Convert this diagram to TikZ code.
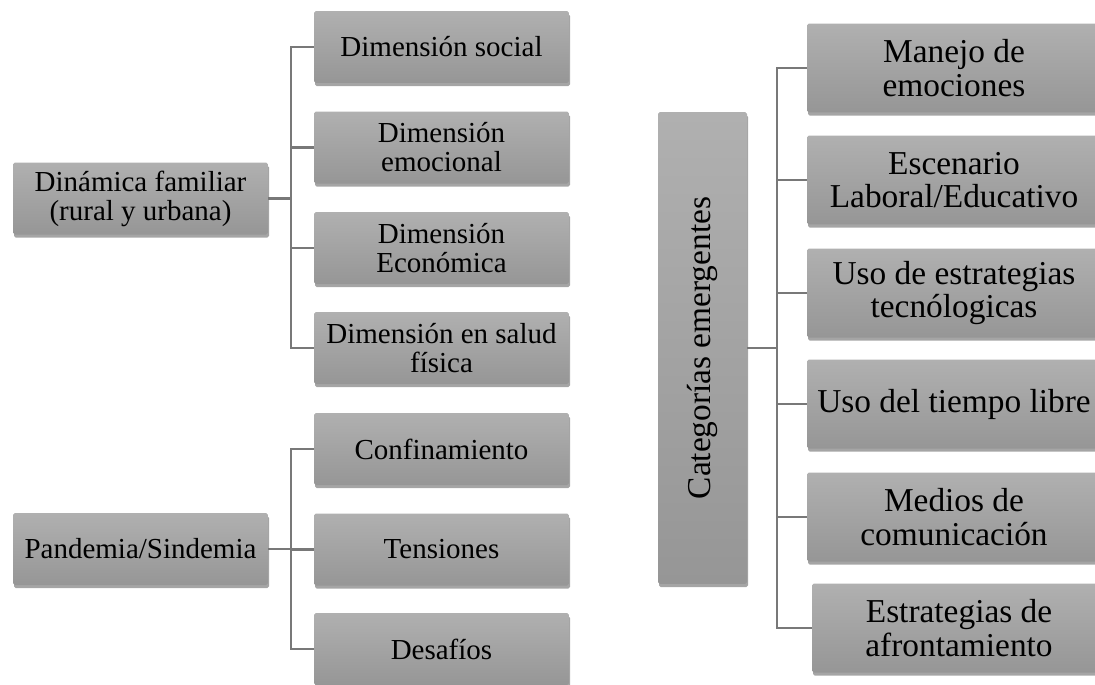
\documentclass[tikz,border=0pt]{standalone}
\usepackage{fontspec}
\setmainfont{Liberation Serif}
\usetikzlibrary{shadows}
\definecolor{boxtop}{RGB}{176,176,176}
\definecolor{boxbot}{RGB}{150,150,150}
\definecolor{linegray}{RGB}{120,120,120}

\begin{document}
\begin{tikzpicture}[x=0.02cm,y=-0.02cm,
    caja/.style={top color=boxtop,bottom color=boxbot,draw=none,rounded corners=1pt,
      drop shadow={shadow xshift=0.6pt,shadow yshift=-1.8pt,opacity=0.5,fill=black!70},
      align=center,inner sep=2pt,font=\fontsize{16.5}{16.5}\selectfont,
      minimum width=5.1cm,minimum height=1.44cm},
    cajader/.style={caja,font=\fontsize{19}{19}\selectfont,
      minimum width=5.88cm,minimum height=1.78cm},
    rama/.style={draw=linegray,line width=1.3pt}]
      \useasboundingbox (0,0) rectangle (1095,684);
      % dinamica familiar
      \node[caja] (dinamica) at (140.5,198.5) {Dinámica familiar\\(rural y urbana)};
      \node[caja] (social) at (441.5,47) {Dimensión social};
      \node[caja] (emocional) at (441.5,147.5) {Dimensión\\emocional};
      \node[caja] (economica) at (441.5,248) {Dimensión\\Económica};
      \node[caja] (salud) at (441.5,348) {Dimensión en salud\\física};
      \coordinate (bus1) at (291,0);
      \draw[rama] (dinamica.east) -- (dinamica.east -| bus1);
      \draw[rama] (social.west) -- (social.west -| bus1) -- (salud.west -| bus1) -- (salud.west);
      \foreach \n in {emocional,economica}
        \draw[rama] (\n.west) -- (\n.west -| bus1);
      % pandemia
      \node[caja] (pandemia) at (140.5,549) {Pandemia/Sindemia};
      \node[caja] (confina) at (441.5,449) {Confinamiento};
      \node[caja] (tension) at (441.5,549.5) {Tensiones};
      \node[caja] (desafio) at (441.5,649) {Desafíos};
      \coordinate (bus2) at (291,0);
      \draw[rama] (pandemia.east) -- (pandemia.east -| bus2);
      \draw[rama] (confina.west) -- (confina.west -| bus2) -- (desafio.west -| bus2) -- (desafio.west);
      \draw[rama] (tension.west) -- (tension.west -| bus2);
      % categorias emergentes
      \node[caja,font=\fontsize{19}{19}\selectfont,minimum width=1.78cm,minimum height=9.44cm]
        (categorias) at (702.5,348) {\rotatebox{90}{Categorías emergentes}};
      \node[cajader] (manejo) at (954,68) {Manejo de\\emociones};
      \node[cajader] (escenario) at (954,180) {Escenario\\Laboral/Educativo};
      \node[cajader] (estrateg) at (954,293) {Uso de estrategias\\tecnólogicas};
      \node[cajader] (tiempo) at (954,404) {Uso del tiempo libre};
      \node[cajader] (medios) at (954,517) {Medios de\\comunicación};
      \node[cajader] (afronta) at (959,628) {Estrategias de\\afrontamiento};
      \coordinate (bus3) at (777,0);
      \draw[rama] (categorias.east) -- (categorias.east -| bus3);
      \draw[rama] (manejo.west) -- (manejo.west -| bus3) -- (afronta.west -| bus3) -- (afronta.west);
      \foreach \n in {escenario,estrateg,tiempo,medios}
        \draw[rama] (\n.west) -- (\n.west -| bus3);
    \end{tikzpicture}
\end{document}
